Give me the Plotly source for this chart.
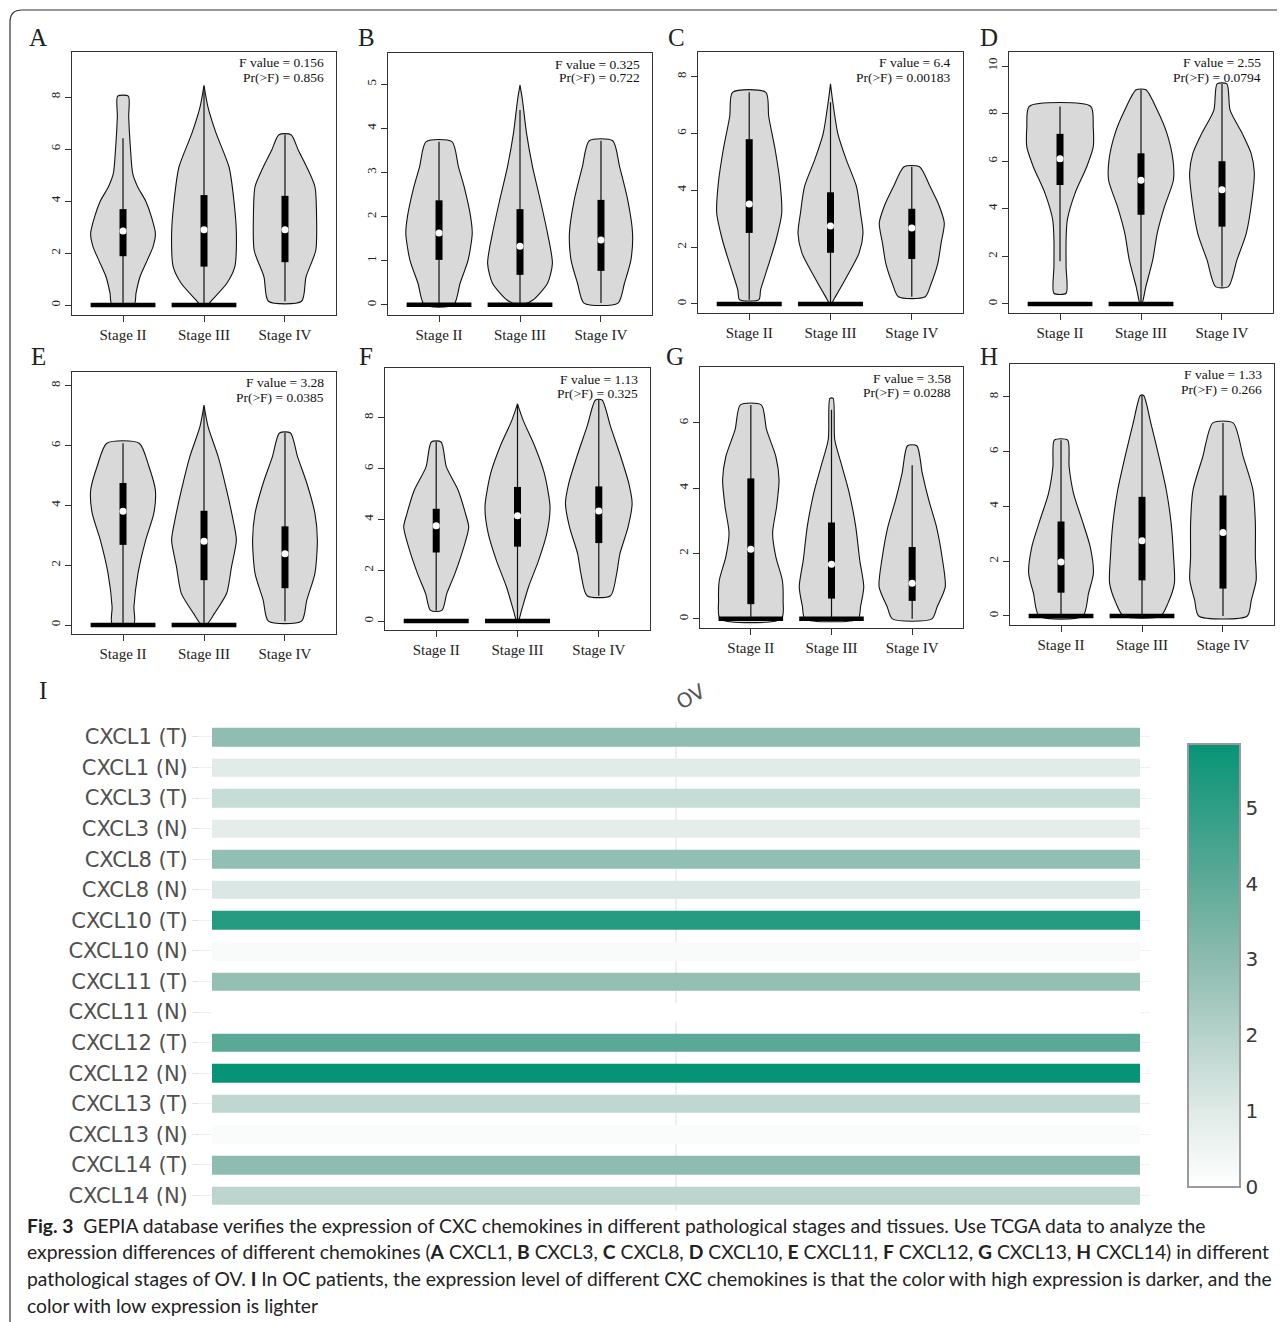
import plotly.graph_objects as go

# page body adds an 8 px margin; the figure is sized/shifted to compensate
OFF = 8
W, H = 1285 - OFF, 1322 - OFF

# ------------------------------------------------------------------ data
STAGES = ["Stage II", "Stage III", "Stage IV"]
PANELS = ["A", "B", "C", "D", "E", "F", "G", "H"]
F_VALUES = ["0.156", "0.325", "6.4", "2.55", "3.28", "1.13", "3.58", "1.33"]
P_VALUES = ["0.856", "0.722", "0.00183", "0.0794", "0.0385", "0.325", "0.0288", "0.266"]

# violin outline profiles (expression level, relative half-width) per stage
A_prof_y = [[0.05, 0.45, 1.09, 1.73, 2.24, 2.75, 3.4, 4.0, 4.55, 5.05, 6.1, 7.24, 8.03],
            [0, 0.2, 0.83, 1.47, 2.75, 4.0, 5.3, 6.6, 7.6, 8.45],
            [0.15, 1.09, 2.1, 3.4, 4.55, 5.3, 5.95, 6.55]]
A_prof_w = [[0.14, 0.16, 0.21, 0.30, 0.37, 0.40, 0.35, 0.28, 0.18, 0.12, 0.09, 0.07, 0.066],
            [0.04, 0.10, 0.28, 0.38, 0.40, 0.37, 0.31, 0.15, 0.05, 0.0],
            [0.205, 0.26, 0.38, 0.39, 0.37, 0.27, 0.165, 0.075]]
B_prof_y = [[0, 0.49, 1.02, 1.62, 2.0, 2.68, 3.13, 3.7],
            [0, 0.11, 0.49, 0.94, 1.62, 2.38, 3.13, 3.9, 4.65, 4.98],
            [0.04, 0.49, 1.02, 1.62, 2.38, 3.13, 3.72]]
B_prof_w = [[0.18, 0.26, 0.36, 0.41, 0.39, 0.31, 0.24, 0.16],
            [0.03, 0.16, 0.34, 0.40, 0.34, 0.25, 0.155, 0.08, 0.03, 0.0],
            [0.21, 0.29, 0.37, 0.39, 0.33, 0.23, 0.145]]
C_prof_y = [[0.15, 0.49, 1.31, 2.25, 3.19, 4.25, 5.42, 6.6, 7.45],
            [0, 0.2, 0.96, 1.78, 2.49, 3.19, 4.13, 5.07, 6.0, 7.18, 7.75],
            [0.25, 0.73, 1.43, 2.13, 2.84, 3.43, 4.13, 4.83]]
C_prof_w = [[0.12, 0.14, 0.23, 0.33, 0.40, 0.38, 0.32, 0.24, 0.205],
            [0.01, 0.05, 0.20, 0.35, 0.40, 0.37, 0.32, 0.195, 0.09, 0.025, 0.0],
            [0.165, 0.24, 0.32, 0.36, 0.40, 0.34, 0.225, 0.095]]
D_prof_y = [[0.45, 1.57, 2.69, 3.53, 4.65, 5.77, 6.6, 7.45, 8.3],
            [0, 0.73, 1.85, 2.97, 4.09, 5.2, 6.05, 7.17, 8.15, 9.0],
            [0.73, 1.85, 2.97, 4.37, 5.49, 6.33, 7.17, 8.15, 9.25]]
D_prof_w = [[0.075, 0.075, 0.075, 0.09, 0.185, 0.33, 0.41, 0.41, 0.38],
            [0.01, 0.06, 0.145, 0.20, 0.29, 0.40, 0.395, 0.32, 0.20, 0.06],
            [0.08, 0.185, 0.30, 0.37, 0.40, 0.36, 0.25, 0.10, 0.06]]
E_prof_y = [[0.05, 0.61, 1.73, 2.84, 3.73, 4.5, 5.3, 6.08],
            [0, 0.39, 1.06, 1.95, 2.84, 3.5, 4.5, 5.63, 6.63, 7.35],
            [0.13, 0.84, 1.73, 2.84, 3.73, 4.74, 5.63, 6.42]]
E_prof_w = [[0.135, 0.135, 0.185, 0.28, 0.38, 0.40, 0.32, 0.20],
            [0.03, 0.13, 0.28, 0.34, 0.40, 0.36, 0.28, 0.175, 0.05, 0.0],
            [0.205, 0.27, 0.37, 0.40, 0.37, 0.27, 0.155, 0.068]]
F_prof_y = [[0.42, 1.08, 1.87, 2.92, 3.7, 4.23, 5.15, 6.07, 7.05],
            [0, 0.42, 1.34, 2.39, 3.44, 4.5, 5.81, 6.86, 7.9, 8.55],
            [1.0, 1.87, 2.65, 3.7, 4.63, 5.41, 6.47, 7.65, 8.7]]
F_prof_w = [[0.07, 0.13, 0.23, 0.34, 0.40, 0.36, 0.27, 0.125, 0.06],
            [0.01, 0.05, 0.135, 0.26, 0.36, 0.40, 0.33, 0.215, 0.07, 0.0],
            [0.145, 0.22, 0.26, 0.36, 0.41, 0.37, 0.27, 0.145, 0.04]]
G_prof_y = [[0, 0.57, 1.19, 1.9, 2.63, 3.44, 4.26, 4.97, 5.79, 6.55],
            [0, 0.37, 0.98, 1.8, 2.83, 3.85, 4.67, 5.49, 6.75],
            [0, 0.37, 0.98, 1.9, 2.83, 3.64, 4.46, 5.3]]
G_prof_w = [[0.38, 0.40, 0.39, 0.31, 0.27, 0.32, 0.35, 0.31, 0.195, 0.13],
            [0.33, 0.36, 0.40, 0.35, 0.30, 0.22, 0.13, 0.04, 0.02],
            [0.245, 0.31, 0.41, 0.37, 0.30, 0.205, 0.125, 0.058]]
H_prof_y = [[0, 0.83, 1.56, 2.53, 3.5, 4.47, 5.45, 6.42],
            [0, 0.46, 1.19, 2.16, 3.38, 4.6, 5.81, 7.03, 8.05],
            [0, 0.58, 1.31, 2.16, 3.38, 4.6, 5.81, 7.05]]
H_prof_w = [[0.27, 0.34, 0.40, 0.36, 0.26, 0.155, 0.10, 0.082],
            [0.23, 0.32, 0.40, 0.39, 0.36, 0.30, 0.21, 0.11, 0.02],
            [0.30, 0.35, 0.41, 0.40, 0.40, 0.37, 0.25, 0.125]]

# box statistics per stage: q1, median, q3, whisker low, whisker high
A_q1, A_med, A_q3, A_lo, A_hi = [1.88, 1.48, 1.65], [2.85, 2.9, 2.9], [3.69, 4.23, 4.2], [0, 0, 0.15], [6.41, 8.4, 6.55]
B_q1, B_med, B_q3, B_lo, B_hi = [1.02, 0.68, 0.77], [1.63, 1.33, 1.47], [2.37, 2.17, 2.38], [0, 0, 0.04], [3.7, 4.42, 3.72]
C_q1, C_med, C_q3, C_lo, C_hi = [2.5, 1.8, 1.58], [3.52, 2.74, 2.67], [5.8, 3.93, 3.35], [0.15, 0, 0.25], [7.45, 7.1, 4.83]
D_q1, D_med, D_q3, D_lo, D_hi = [5.0, 3.75, 3.25], [6.1, 5.2, 4.8], [7.15, 6.33, 6.0], [1.8, 0, 0.73], [8.3, 9.0, 9.25]
E_q1, E_med, E_q3, E_lo, E_hi = [2.68, 1.5, 1.23], [3.8, 2.8, 2.38], [4.75, 3.82, 3.3], [0.05, 0, 0.13], [6.08, 7.3, 6.42]
F_q1, F_med, F_q3, F_lo, F_hi = [2.7, 2.93, 3.07], [3.75, 4.15, 4.33], [4.42, 5.28, 5.3], [0.42, 0, 1.0], [7.05, 8.55, 8.7]
G_q1, G_med, G_q3, G_lo, G_hi = [0.45, 0.62, 0.55], [2.13, 1.67, 1.09], [4.3, 2.95, 2.2], [0, 0, 0], [6.55, 6.4, 4.7]
H_q1, H_med, H_q3, H_lo, H_hi = [0.85, 1.3, 1.0], [1.97, 2.75, 3.05], [3.45, 4.35, 4.4], [0, 0, 0], [6.42, 8.05, 7.05]

# stages that have a cluster of zero values (thick bar at 0)
ZERO_CLUSTER = [True, True, False]

# y ticks per panel
A_ticks = [0, 2, 4, 6, 8]
B_ticks = [0, 1, 2, 3, 4, 5]
C_ticks = [0, 2, 4, 6, 8]
D_ticks = [0, 2, 4, 6, 8, 10]
E_ticks = [0, 2, 4, 6, 8]
F_ticks = [0, 2, 4, 6, 8]
G_ticks = [0, 2, 4, 6]
H_ticks = [0, 2, 4, 6, 8]

# heatmap (panel I)
HEAT_ROWS = ["CXCL1 (T)", "CXCL1 (N)", "CXCL3 (T)", "CXCL3 (N)", "CXCL8 (T)", "CXCL8 (N)",
             "CXCL10 (T)", "CXCL10 (N)", "CXCL11 (T)", "CXCL11 (N)", "CXCL12 (T)", "CXCL12 (N)",
             "CXCL13 (T)", "CXCL13 (N)", "CXCL14 (T)", "CXCL14 (N)"]
HEAT_VALUES = [2.9, 0.95, 1.6, 0.85, 2.85, 1.1, 5.2, 0.2, 2.8, 0.0, 4.1, 5.84, 1.8, 0.15, 2.95, 1.85]
HEAT_COLUMN = ["OV"]
COLORBAR_TICKS = [0, 1, 2, 3, 4, 5]

# ------------------------------------------------------------------ layout helpers
PROF_Y = [A_prof_y, B_prof_y, C_prof_y, D_prof_y, E_prof_y, F_prof_y, G_prof_y, H_prof_y]
PROF_W = [A_prof_w, B_prof_w, C_prof_w, D_prof_w, E_prof_w, F_prof_w, G_prof_w, H_prof_w]
Q1 = [A_q1, B_q1, C_q1, D_q1, E_q1, F_q1, G_q1, H_q1]
MED = [A_med, B_med, C_med, D_med, E_med, F_med, G_med, H_med]
Q3 = [A_q3, B_q3, C_q3, D_q3, E_q3, F_q3, G_q3, H_q3]
LO = [A_lo, B_lo, C_lo, D_lo, E_lo, F_lo, G_lo, H_lo]
HI = [A_hi, B_hi, C_hi, D_hi, E_hi, F_hi, G_hi, H_hi]
TICKS = [A_ticks, B_ticks, C_ticks, D_ticks, E_ticks, F_ticks, G_ticks, H_ticks]

# pixel boxes (left, top, right, bottom) of each plot frame, in page coordinates
BOXES = [(72, 52, 336, 315), (388, 53, 652, 315), (698, 52, 963, 313), (1009, 52, 1273, 313),
         (72, 372, 336, 634), (385, 368, 650, 630), (700, 367, 963, 628), (1010, 364, 1274, 625)]
YRANGES = [(-0.38, 9.73), (-0.23, 5.71), (-0.32, 8.87), (-0.38, 10.59),
           (-0.30, 8.46), (-0.35, 9.96), (-0.28, 7.71), (-0.33, 9.2)]
LETTER_POS = [(38, 37), (366, 37), (676, 37), (989, 37), (38, 356), (366, 356), (675, 356), (989, 356)]

SERIF = "Liberation Serif, Times New Roman, serif"
SANS = "DejaVu Sans, sans-serif"


def px_x(p):
    return (p - OFF) / W


def px_y(p):
    return 1 - (p - OFF) / H


fig = go.Figure()
layout = dict(width=W, height=H, margin=dict(l=0, r=0, t=0, b=0),
              paper_bgcolor="white", plot_bgcolor="white", showlegend=False)
annotations = []

for i in range(8):
    n = i + 1
    suffix = "" if n == 1 else str(n)
    xa, ya = f"x{suffix}", f"y{suffix}"
    l, t, r, b = BOXES[i]
    layout[f"xaxis{suffix}"] = dict(domain=[px_x(l), px_x(r)], range=[0.37, 3.63], anchor=ya,
                                    tickvals=[1, 2, 3], ticktext=STAGES, ticks="outside", ticklen=6,
                                    tickcolor="#333", showline=True, mirror=True, linecolor="#333",
                                    linewidth=1, showgrid=False, zeroline=False, fixedrange=True,
                                    tickfont=dict(family=SERIF, size=15, color="#222"))
    layout[f"yaxis{suffix}"] = dict(domain=[px_y(b), px_y(t)], range=list(YRANGES[i]), anchor=xa,
                                    tickvals=TICKS[i], ticks="outside", ticklen=6, tickcolor="#333",
                                    showline=True, mirror=True, linecolor="#333", linewidth=1,
                                    showgrid=False, zeroline=False, tickangle=-90, fixedrange=True,
                                    tickfont=dict(family=SERIF, size=13, color="#222"))
    for s in range(3):
        c = s + 1
        ys = PROF_Y[i][s]
        ws = PROF_W[i][s]
        px_ = [c + w for w in ws] + [c - w for w in reversed(ws)]
        py_ = list(ys) + list(reversed(ys))
        px_.append(px_[0])
        py_.append(py_[0])
        fig.add_trace(go.Scatter(x=px_, y=py_, mode="lines", fill="toself", fillcolor="#d9d9d9",
                                 line=dict(color="#111", width=1.1, shape="spline", smoothing=0.7),
                                 xaxis=xa, yaxis=ya, hoverinfo="skip"))
        fig.add_trace(go.Scatter(x=[c, c], y=[LO[i][s], HI[i][s]], mode="lines",
                                 line=dict(color="#111", width=1.2), xaxis=xa, yaxis=ya, hoverinfo="skip"))
        fig.add_trace(go.Scatter(x=[c, c], y=[Q1[i][s], Q3[i][s]], mode="lines",
                                 line=dict(color="black", width=7), xaxis=xa, yaxis=ya, hoverinfo="skip"))
        fig.add_trace(go.Scatter(x=[c], y=[MED[i][s]], mode="markers",
                                 marker=dict(color="white", size=7, line=dict(width=0)),
                                 xaxis=xa, yaxis=ya, hoverinfo="skip"))
        if ZERO_CLUSTER[s]:
            fig.add_trace(go.Scatter(x=[c - 0.4, c + 0.4], y=[0, 0], mode="lines",
                                     line=dict(color="black", width=4.5), xaxis=xa, yaxis=ya,
                                     hoverinfo="skip"))
    # F statistic lines, right aligned near the top-right corner of the frame
    for k, txt in enumerate([f"F value = {F_VALUES[i]}", f"Pr(>F) = {P_VALUES[i]}"]):
        annotations.append(dict(xref="paper", yref="paper", x=px_x(r - 10), y=px_y(t + 11 + 14 * k),
                                xanchor="right", yanchor="middle", showarrow=False, text=txt,
                                font=dict(family=SERIF, size=13.5, color="#111")))
    lx, ly = LETTER_POS[i]
    annotations.append(dict(xref="paper", yref="paper", x=px_x(lx), y=px_y(ly), xanchor="center",
                            yanchor="middle", showarrow=False, text=PANELS[i],
                            font=dict(family=SERIF, size=25, color="#222")))

# ------------------------------------------------------------------ heatmap panel I
hx0, hx1 = 212, 1140      # heatmap cell extent in px
ax0, ax1 = 200, 1150      # plot area extent in px
unit = (hx1 - hx0)
layout["xaxis9"] = dict(domain=[px_x(ax0), px_x(ax1)],
                        range=[-0.5 - (hx0 - ax0) / unit, 0.5 + (ax1 - hx1) / unit],
                        anchor="y9", showticklabels=False, ticks="", showgrid=True,
                        gridcolor="#f0f0f0", gridwidth=2, zeroline=False, showline=False,
                        tickvals=[0], fixedrange=True)
layout["yaxis9"] = dict(domain=[px_y(1210.8), px_y(721.7)], range=[15.5, -0.5], anchor="x9",
                        tickvals=list(range(len(HEAT_ROWS))), ticktext=HEAT_ROWS,
                        ticks="outside", ticklen=7, tickcolor="#e4e4e4", showgrid=True,
                        gridcolor="#f0f0f0", gridwidth=1, zeroline=False, showline=False,
                        fixedrange=True, tickfont=dict(family=SANS, size=21, color="#505050"))

fig.add_trace(go.Heatmap(
    z=[[v] for v in HEAT_VALUES], x=[0], y=list(range(len(HEAT_ROWS))),
    zmin=0, zmax=5.84, ygap=12, xaxis="x9", yaxis="y9", hoverinfo="skip",
    colorscale=[[0.0, "#ffffff"], [0.17, "#e0eae7"], [0.5, "#8fbdb1"], [0.7, "#5aa996"],
                [1.0, "#079476"]],
    colorbar=dict(x=px_x(1188), xanchor="left", xpad=0, y=px_y(965.5), yanchor="middle",
                  ypad=0, len=443, lenmode="pixels", thickness=52, outlinecolor="#9a9a9a",
                  outlinewidth=2, tickvals=COLORBAR_TICKS, ticks="",
                  tickfont=dict(family=SANS, size=20, color="#3a3a3a"))))

annotations.append(dict(xref="paper", yref="paper", x=px_x(690), y=px_y(697), showarrow=False,
                        text=HEAT_COLUMN[0], textangle=-30,
                        font=dict(family=SANS, size=20, color="#555")))
annotations.append(dict(xref="paper", yref="paper", x=px_x(37), y=px_y(690), showarrow=False,
                        text="I", font=dict(family=SERIF, size=25, color="#222")))

# ------------------------------------------------------------------ caption
CAPTION = [
    "<b>Fig. 3</b>  GEPIA database verifies the expression of CXC chemokines in different pathological stages and tissues. Use TCGA data to analyze the",
    "expression differences of different chemokines (<b>A</b> CXCL1, <b>B</b> CXCL3, <b>C</b> CXCL8, <b>D</b> CXCL10, <b>E</b> CXCL11, <b>F</b> CXCL12, <b>G</b> CXCL13, <b>H</b> CXCL14) in different",
    "pathological stages of OV. <b>I</b> In OC patients, the expression level of different CXC chemokines is that the color with high expression is darker, and the",
    "color with low expression is lighter",
]
for k, line in enumerate(CAPTION):
    annotations.append(dict(xref="paper", yref="paper", x=px_x(25), y=px_y(1225 + 26.8 * k),
                            xanchor="left", yanchor="middle", showarrow=False, text=line,
                            font=dict(family="Lato, sans-serif", size=19.3, color="#222")))

layout["annotations"] = annotations

# outer rounded frame (top and left edges)
rr = 12
layout["shapes"] = [dict(type="path", xref="paper", yref="paper",
                         path=(f"M {px_x(10)},0 L {px_x(10)},{px_y(10 + rr)} "
                               f"Q {px_x(10)},{px_y(10)} {px_x(10 + rr)},{px_y(10)} "
                               f"L 1,{px_y(10)}"),
                         line=dict(color="#333", width=1.2))]

fig.update_layout(**layout)
fig.write_html("out.html")
